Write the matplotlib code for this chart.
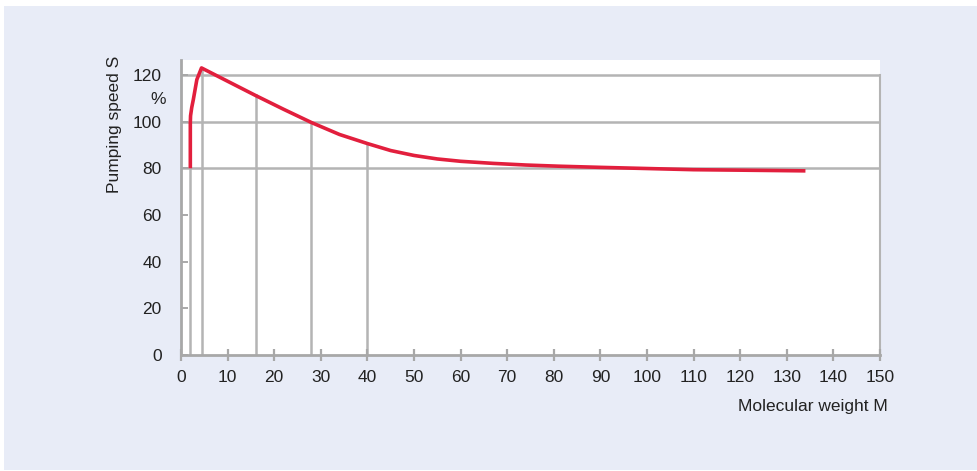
import numpy as np
import matplotlib
matplotlib.use("Agg")
import matplotlib.pyplot as plt
from matplotlib.patches import Rectangle

# pumping speed vs molecular weight
mol_weight = [2, 2, 2.05, 2.3, 2.65, 3.4, 4.4, 10, 16, 22, 28, 34, 40, 45, 50, 55, 60,
              67, 74, 81, 90, 100, 110, 120, 134]
speed = [80, 99.5, 102.5, 106, 109.5, 118, 123, 117.3, 111.2, 105.3, 99.6, 94.5, 90.6,
         87.6, 85.5, 84.0, 83.0, 82.1, 81.4, 80.9, 80.4, 79.9, 79.4, 79.2, 78.9]

# marked gases (vertical drop lines)
marks = [2, 4.4, 16, 28, 40]
mark_levels = [80, 123, 111.2, 100, 90.6]

x_ticks = list(range(0, 151, 10))
y_ticks = [0, 20, 40, 60, 80, 100, 120]
grid_levels = [80, 100, 120]

plt.rcParams['font.family'] = ['Liberation Sans', 'DejaVu Sans']
txt = '#222222'
gray = '#b4b4b4'

fig = plt.figure(figsize=(9.77, 4.71), dpi=100, facecolor='white')
bg = Rectangle((4 / 977, 1 - 470 / 471), 973 / 977, 464 / 471,
               transform=fig.transFigure, facecolor='#e8ecf7',
               edgecolor='none', zorder=-10)
fig.add_artist(bg)

ax = fig.add_axes([181 / 977, 1 - 355 / 471, 699 / 977, 295 / 471])
ax.set_zorder(5)
ax.set_facecolor('white')
ax.set_xlim(0, 150)
ax.set_ylim(0, 126.4)

for lv in grid_levels:
    ax.axhline(lv, color=gray, lw=1.8, zorder=1)
for m, lv in zip(marks, mark_levels):
    ax.plot([m, m], [0, lv], color=gray, lw=1.8, zorder=1)
ax.plot([150, 150], [0, 120], color=gray, lw=1.5, zorder=1, clip_on=False)

ax.plot(mol_weight, speed, color='#e21f3d', lw=2.6, zorder=3,
        solid_joinstyle='round', solid_capstyle='butt')

for side in ['top', 'right']:
    ax.spines[side].set_visible(False)
for side in ['left', 'bottom']:
    ax.spines[side].set_color('#a8a8a8')
    ax.spines[side].set_linewidth(2)

ax.set_xticks(x_ticks)
ax.set_yticks(y_ticks)
ax.tick_params(axis='x', direction='inout', length=9, width=1.6, color='#a8a8a8',
               labelsize=12.5, labelcolor=txt, pad=6)
ax.tick_params(axis='y', direction='in', length=5, width=1.4, color='#a8a8a8',
               labelsize=12.5, labelcolor=txt, pad=14)

ax.text(-0.033, 109.5, '%', transform=ax.get_yaxis_transform(), ha='center', va='center',
        fontsize=12.5, color=txt)
fig.text(115 / 977, 1 - 124 / 471, 'Pumping speed S', rotation=90, ha='center', va='center',
         fontsize=12.5, color=txt)
fig.text(888 / 977, 1 - 407 / 471, 'Molecular weight M', ha='right', va='center',
         fontsize=12.5, color=txt)

fig.savefig('out.png', dpi=100, facecolor='white')
